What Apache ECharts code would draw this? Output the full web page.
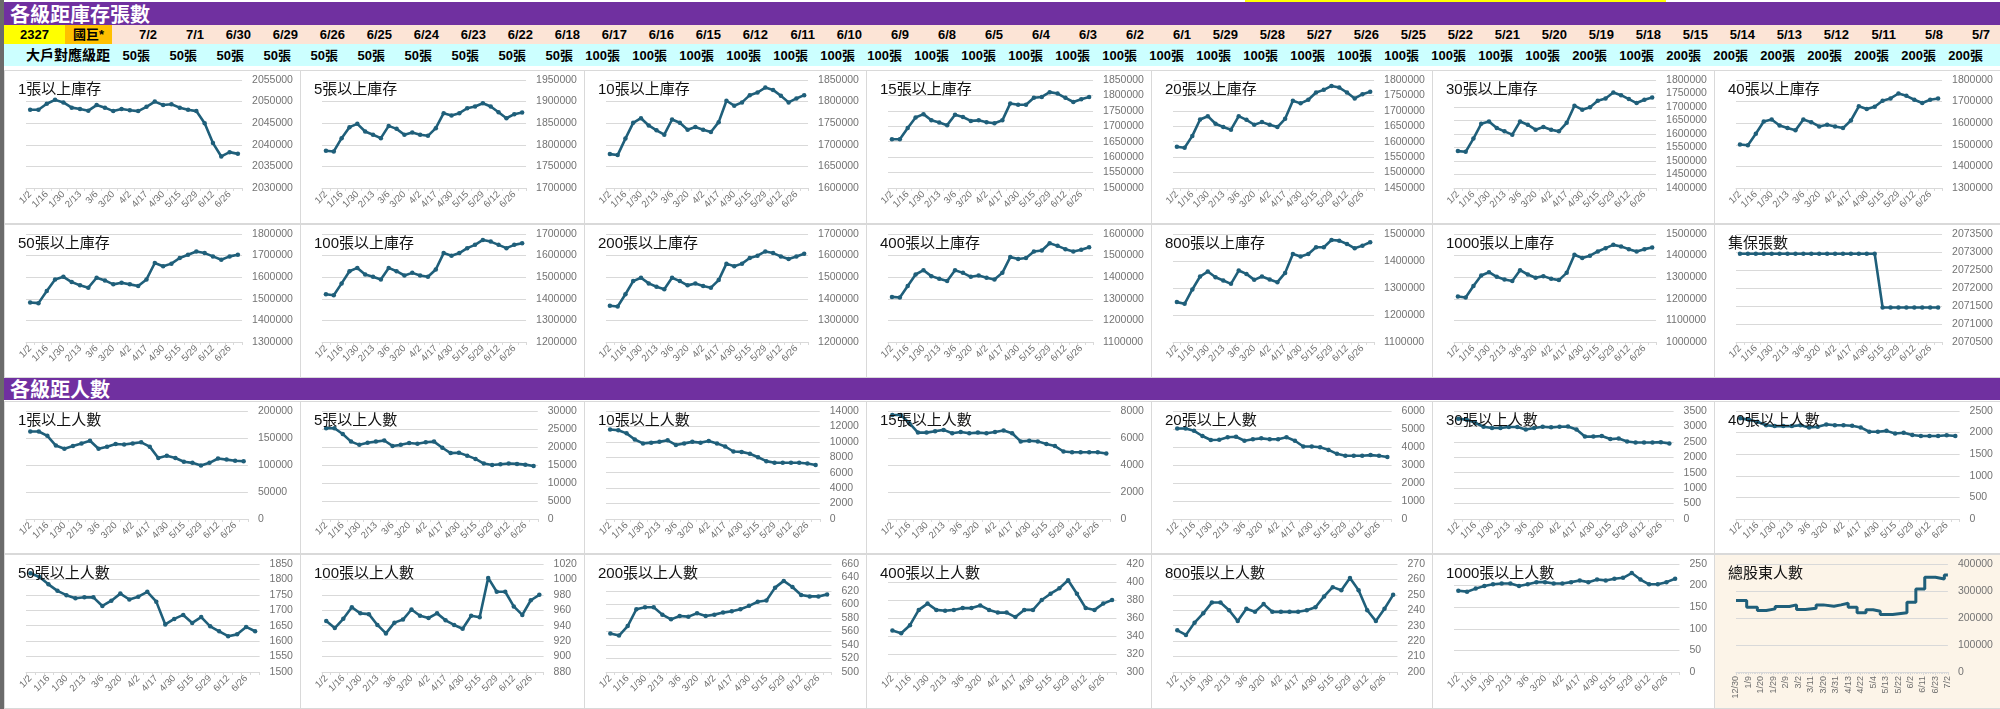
<!DOCTYPE html>
<html><head><meta charset="utf-8">
<script src="https://cdn.jsdelivr.net/npm/echarts@6/dist/echarts.min.js"></script>
<style>
html,body{margin:0;padding:0;background:#fff;}
#wrap{position:relative;width:2000px;height:709px;overflow:hidden;font-family:'Liberation Sans','Noto Sans CJK TC',sans-serif;}
.abs{position:absolute;}
.band{background:#7030A0;color:#fff;font-family:'Noto Sans CJK TC',sans-serif;font-weight:700;font-size:20px;line-height:23px;padding-left:6px;box-sizing:border-box;}
.hd{position:absolute;font-weight:700;font-size:13px;line-height:18px;white-space:nowrap;text-align:right;color:#000;font-family:'Liberation Sans','Noto Sans CJK TC',sans-serif;}
.box{position:absolute;border:1px solid #d9d9d9;box-sizing:border-box;background:#fff;}
#chart{position:absolute;left:0;top:0;width:2000px;height:709px;}
</style></head><body><div id="wrap">
<div class="abs" style="left:0;top:0;width:4px;height:709px;background:#6b6b6b;"></div>
<div class="abs" style="left:1245px;top:0;width:421px;height:3px;background:#ffff00;"></div>
<div class="abs band" style="left:4px;top:2px;width:1996px;height:23px;">各級距庫存張數</div>
<div class="abs" style="left:4px;top:25px;width:1996px;height:19px;background:#FCE4D6;"></div>
<div class="abs" style="left:4px;top:25px;width:61px;height:19px;background:#FFFF00;"></div>
<div class="abs" style="left:65px;top:25px;width:47px;height:19px;background:#FFC000;"></div>
<div class="hd" style="left:4px;top:26px;width:61px;text-align:center;">2327</div>
<div class="hd" style="left:65px;top:26px;width:47px;text-align:center;">國巨*</div>
<div class="abs" style="left:4px;top:44px;width:1996px;height:22px;background:#CCFFFF;"></div>
<div class="hd" style="left:10px;top:46px;width:100px;font-size:14px;">大戶對應級距</div>
<div class="abs band" style="left:4px;top:377px;width:1996px;height:23px;">各級距人數</div>
<div id="hdr"></div>
<div id="boxes"></div>
<div id="chart"></div>
</div>
<script>
// ---- header rows ----
const hdrDates = ['7/2','7/1','6/30','6/29','6/26','6/25','6/24','6/23','6/22','6/18','6/17','6/16','6/15','6/12','6/11','6/10','6/9','6/8','6/5','6/4','6/3','6/2','6/1','5/29','5/28','5/27','5/26','5/25','5/22','5/21','5/20','5/19','5/18','5/15','5/14','5/13','5/12','5/11','5/8','5/7'];
const hdrLevels = ['50張','50張','50張','50張','50張','50張','50張','50張','50張','50張','100張','100張','100張','100張','100張','100張','100張','100張','100張','100張','100張','100張','100張','100張','100張','100張','100張','100張','100張','100張','100張','200張','100張','200張','200張','200張','200張','200張','200張','200張'];

// ---- weekly categories ----
const weeks = ['1/2','1/9','1/16','1/22','1/30','2/6','2/13','2/20','3/6','3/13','3/20','3/27','4/2','4/10','4/17','4/24','4/30','5/8','5/15','5/22','5/29','6/5','6/12','6/18','6/26','7/2'];

// ---- inventory (張數) ----
const inv1 = [2048100,2048100,2049500,2050400,2049800,2048600,2048300,2047900,2049200,2048600,2047800,2048300,2048000,2047800,2048800,2050000,2049200,2049400,2048600,2048100,2047800,2045000,2040400,2037300,2038300,2037900];
const inv5 = [1786200,1784600,1815400,1840800,1848500,1830800,1823100,1815400,1843800,1836900,1823100,1828500,1823100,1820800,1838500,1873100,1867700,1873100,1884600,1888500,1896200,1888500,1875400,1861500,1870800,1874600];
const inv10 = [1678500,1676200,1714300,1750900,1761600,1744800,1733400,1723500,1758500,1750900,1734900,1741000,1734900,1729600,1752400,1802000,1790500,1798200,1814900,1821000,1832500,1827100,1813400,1798200,1807300,1814900];
const inv15 = [1658000,1658000,1694600,1728400,1739400,1719300,1712000,1703700,1737600,1730200,1717500,1719300,1712900,1710000,1719300,1774100,1769600,1769600,1792400,1795100,1810700,1806100,1792400,1778700,1787800,1795100];
const inv20 = [1583600,1580400,1618800,1672100,1682700,1658200,1647500,1639000,1682700,1671000,1655000,1663500,1655000,1647500,1674200,1732800,1724300,1736000,1759500,1768000,1780800,1775500,1759500,1740300,1754200,1761600];
const inv30 = [1536600,1534100,1582900,1637800,1646300,1622000,1609800,1597600,1646300,1634100,1615900,1625600,1615900,1609800,1641500,1704900,1690200,1698800,1723200,1731700,1753700,1743900,1729300,1714600,1726800,1735400];
const inv40 = [1501200,1498200,1551500,1607900,1617100,1589600,1577400,1566800,1617100,1604900,1585100,1592700,1585100,1577400,1612500,1678000,1665900,1676500,1704000,1714600,1737500,1726800,1708500,1693300,1708500,1714600];
const inv50 = [1482900,1479900,1536300,1589600,1601800,1577400,1562200,1551500,1597300,1585100,1566800,1574400,1566800,1559100,1589600,1665900,1650600,1662800,1688700,1704000,1719200,1711600,1696300,1681100,1696300,1704000];
const inv100 = [1421000,1416500,1471300,1527700,1543000,1512500,1501800,1489600,1543000,1527700,1507900,1520100,1507900,1501800,1535400,1611600,1599400,1611600,1634500,1649700,1672600,1664900,1649700,1634500,1649700,1657300];
const inv200 = [1367700,1364600,1421000,1482000,1497300,1471300,1456100,1443900,1497300,1482000,1462200,1471300,1459100,1451500,1486600,1562800,1550600,1562800,1588700,1599400,1619200,1611600,1596300,1584100,1596300,1608500];
const inv400 = [1308800,1305800,1359100,1412500,1432300,1404900,1392700,1382000,1432300,1420100,1401800,1407900,1397300,1389600,1420100,1493300,1484100,1488700,1519200,1523800,1557300,1545100,1529900,1519200,1526800,1539000];
const inv800 = [1247700,1241500,1294500,1342500,1360900,1340000,1327700,1315400,1364600,1352300,1330200,1342500,1331400,1321500,1356000,1426200,1416300,1426200,1450800,1450800,1477800,1475400,1463100,1447100,1456900,1469200];
const inv1000 = [1210400,1205800,1259100,1307900,1323200,1301800,1289600,1282000,1332300,1312500,1297300,1304900,1292700,1286600,1320100,1404000,1388700,1399400,1419200,1434500,1449700,1442100,1429900,1419200,1429900,1437500];
const tdccTotal = [2072950,2072950,2072950,2072950,2072950,2072950,2072950,2072950,2072950,2072950,2072950,2072950,2072950,2072950,2072950,2072950,2072950,2072950,2071460,2071460,2071460,2071460,2071460,2071460,2071460,2071460];

// ---- holders (人數) ----
const ppl1 = [162000,162000,154000,136000,130000,135000,140000,145000,130000,134000,139000,138000,140000,142000,134000,113000,117000,113000,106000,104000,99000,104000,112000,110000,108000,107000];
const ppl5 = [25200,25200,23600,21500,20600,21200,21500,21800,20300,20600,21100,20900,21300,21500,19800,18300,18400,17600,16700,15400,15000,15200,15400,15300,15100,14700];
const ppl10 = [11600,11500,11100,10300,9800,9900,10000,10200,9600,9800,10000,9900,10100,9800,9400,8750,8700,8450,8000,7500,7300,7300,7300,7300,7200,7000];
const ppl15 = [7700,7700,7100,6400,6400,6500,6600,6350,6450,6350,6400,6350,6450,6550,6350,5750,5800,5750,5550,5400,5000,4950,4950,4950,4950,4850];
const ppl20 = [5030,5030,4900,4610,4390,4400,4540,4570,4350,4430,4480,4430,4430,4540,4350,4030,4030,3990,3840,3620,3510,3510,3510,3550,3510,3440];
const ppl30 = [3250,3220,3120,2990,2950,2950,2980,2980,2900,2950,2990,2970,2990,3000,2900,2670,2670,2690,2590,2610,2510,2480,2480,2480,2490,2450];
const ppl40 = [2330,2300,2250,2170,2150,2150,2150,2170,2120,2135,2190,2170,2170,2160,2120,2020,2020,2040,1980,1995,1945,1920,1920,1920,1940,1920];
const ppl50 = [1820,1808,1784,1763,1749,1739,1742,1742,1714,1731,1754,1735,1744,1760,1728,1654,1672,1685,1659,1678,1648,1632,1616,1622,1646,1632];
const ppl100 = [946,937,949,964,956,955,941,930,944,948,961,953,950,956,947,941,936,953,951,1002,984,984,965,954,973,980];
const ppl200 = [557,554,568,593,596,596,585,578,583,582,587,583,585,588,590,593,598,604,606,625,635,626,614,612,612,615];
const ppl400 = [346,343,352,369,376,369,368,369,371,371,374,369,366,366,361,369,369,380,387,393,402,387,371,369,376,380];
const ppl800 = [227,224,232,238,245,245,240,233,241,239,244,239,239,239,239,240,242,249,255,253,261,253,240,233,241,250];
const ppl1000 = [188,186,193,199,203,205,205,199,203,208,208,205,205,208,212,208,214,212,216,218,229,214,203,203,208,216];

// ---- total shareholders: [day index, value] at each change ----
const totLabels = ['12/30','1/9','1/20','1/29','2/9','3/2','3/11','3/20','3/31','4/13','4/22','5/4','5/13','5/22','6/2','6/11','6/23','7/2'];
const totSteps = [[0,264600],[6,240000],[12,227700],[17,233800],[22,242500],[30,248600],[34,231400],[39,236300],[45,248600],[49,243700],[55,248600],[59,254800],[63,240000],[68,219100],[73,230200],[77,225200],[81,212900],[88,219100],[96,258500],[101,307700],[106,350800],[112,344600],[117,359400],[119,359400]];

const charts = [
 {t:'1張以上庫存', d:inv1, min:2030000, max:2055000, iv:5000},
 {t:'5張以上庫存', d:inv5, min:1700000, max:1950000, iv:50000},
 {t:'10張以上庫存', d:inv10, min:1600000, max:1850000, iv:50000},
 {t:'15張以上庫存', d:inv15, min:1500000, max:1850000, iv:50000},
 {t:'20張以上庫存', d:inv20, min:1450000, max:1800000, iv:50000},
 {t:'30張以上庫存', d:inv30, min:1400000, max:1800000, iv:50000},
 {t:'40張以上庫存', d:inv40, min:1300000, max:1800000, iv:100000},
 {t:'50張以上庫存', d:inv50, min:1300000, max:1800000, iv:100000},
 {t:'100張以上庫存', d:inv100, min:1200000, max:1700000, iv:100000},
 {t:'200張以上庫存', d:inv200, min:1200000, max:1700000, iv:100000},
 {t:'400張以上庫存', d:inv400, min:1100000, max:1600000, iv:100000},
 {t:'800張以上庫存', d:inv800, min:1100000, max:1500000, iv:100000},
 {t:'1000張以上庫存', d:inv1000, min:1000000, max:1500000, iv:100000},
 {t:'集保張數', d:tdccTotal, min:2070500, max:2073500, iv:500},
 {t:'1張以上人數', d:ppl1, min:0, max:200000, iv:50000},
 {t:'5張以上人數', d:ppl5, min:0, max:30000, iv:5000},
 {t:'10張以上人數', d:ppl10, min:0, max:14000, iv:2000},
 {t:'15張以上人數', d:ppl15, min:0, max:8000, iv:2000},
 {t:'20張以上人數', d:ppl20, min:0, max:6000, iv:1000},
 {t:'30張以上人數', d:ppl30, min:0, max:3500, iv:500},
 {t:'40張以上人數', d:ppl40, min:0, max:2500, iv:500},
 {t:'50張以上人數', d:ppl50, min:1500, max:1850, iv:50},
 {t:'100張以上人數', d:ppl100, min:880, max:1020, iv:20},
 {t:'200張以上人數', d:ppl200, min:500, max:660, iv:20},
 {t:'400張以上人數', d:ppl400, min:300, max:420, iv:20},
 {t:'800張以上人數', d:ppl800, min:200, max:270, iv:10},
 {t:'1000張以上人數', d:ppl1000, min:0, max:250, iv:50},
 {t:'總股東人數', d:totSteps, min:0, max:400000, iv:100000, total:true}
];

// ---- layout ----
const colStart = [4,300,584,866,1151,1432,1714];
const colEnd = [300,584,866,1151,1432,1714,2000];
const rowTop = [70,224,401,554];
const rowBot = [223,377,553,708];

// header cells
let h = '';
hdrDates.forEach((d,i)=>{ const r=157+47*i; h += `<div class="hd" style="left:${r-46}px;top:26px;width:46px;">${d}</div>`; });
hdrLevels.forEach((d,i)=>{ const r=150+47*i; h += `<div class="hd" style="left:${r-46}px;top:47px;width:46px;font-size:13px;">${d}</div>`; });
document.getElementById('hdr').innerHTML = h;

let b = '';
charts.forEach((c,i)=>{
  const r=Math.floor(i/7), k=i%7;
  const bg = c.total ? '#FCF4E8' : '#fff';
  b += `<div class="box" style="left:${colStart[k]}px;top:${rowTop[r]}px;width:${colEnd[k]-colStart[k]+1}px;height:${rowBot[r]-rowTop[r]+1}px;background:${bg};"></div>`;
});
document.getElementById('boxes').innerHTML = b;

const LINE = '#1f5f7a';
const grids=[], xAxes=[], yAxes=[], series=[], titles=[];
charts.forEach((c,i)=>{
  const r=Math.floor(i/7), k=i%7;
  const digits = Math.max(String(c.max).length, String(c.min).length);
  const left = colStart[k]+22;
  const plotRight = colEnd[k]-17-digits*5.85;
  grids.push({left:left, top:rowTop[r]+10, width:plotRight-left, height:108});
  titles.push({text:c.t, left:colStart[k]+9, top:rowTop[r]+7,
    textStyle:{fontSize:15, fontWeight:'normal', color:'#111', fontFamily:"'Liberation Sans','Noto Sans CJK TC',sans-serif"}});
  if (c.total) {
    xAxes.push({type:'value', gridIndex:i, min:0, max:119, interval:7,
      axisLine:{show:true, lineStyle:{color:'#d9d9d9'}},
      axisTick:{show:true, length:3, lineStyle:{color:'#d9d9d9'}},
      minorTick:{show:true, splitNumber:7, length:2, lineStyle:{color:'#d9d9d9'}},
      splitLine:{show:false},
      axisLabel:{rotate:90, fontSize:9, color:'#6e6e6e', margin:4, showMinLabel:true, showMaxLabel:true,
        formatter:(v)=> totLabels[Math.round(v/7)] || ''}});
  } else {
    xAxes.push({type:'category', gridIndex:i, data:weeks, boundaryGap:true,
      axisLine:{show:true, lineStyle:{color:'#d9d9d9'}},
      axisTick:{show:true, interval:0, length:3, lineStyle:{color:'#d9d9d9'}},
      axisLabel:{interval:1, rotate:45, fontSize:9.5, color:'#6e6e6e', margin:5}});
  }
  yAxes.push({type:'value', gridIndex:i, position:'right', min:c.min, max:c.max, interval:c.iv,
    axisLine:{show:false}, axisTick:{show:false},
    splitLine:{show:true, lineStyle:{color:'#d9d9d9', width:1}},
    axisLabel:{fontSize:10.5, color:'#737373', margin:10, fontFamily:'Liberation Sans', formatter:(v)=>String(v)}});
  series.push({type:'line', xAxisIndex:i, yAxisIndex:i, data:c.d,
    step: c.total ? 'end' : false,
    symbol: c.total ? 'none' : 'circle', symbolSize:4.5, showSymbol: !c.total,
    lineStyle:{color:LINE, width: c.total ? 3 : 2.6}, itemStyle:{color:LINE},
    silent:true, z:2});
});

const chart = echarts.init(document.getElementById('chart'), null, {renderer:'canvas'});
chart.setOption({animation:false, backgroundColor:'transparent', title:titles, grid:grids, xAxis:xAxes, yAxis:yAxes, series:series});
</script>
</body></html>
